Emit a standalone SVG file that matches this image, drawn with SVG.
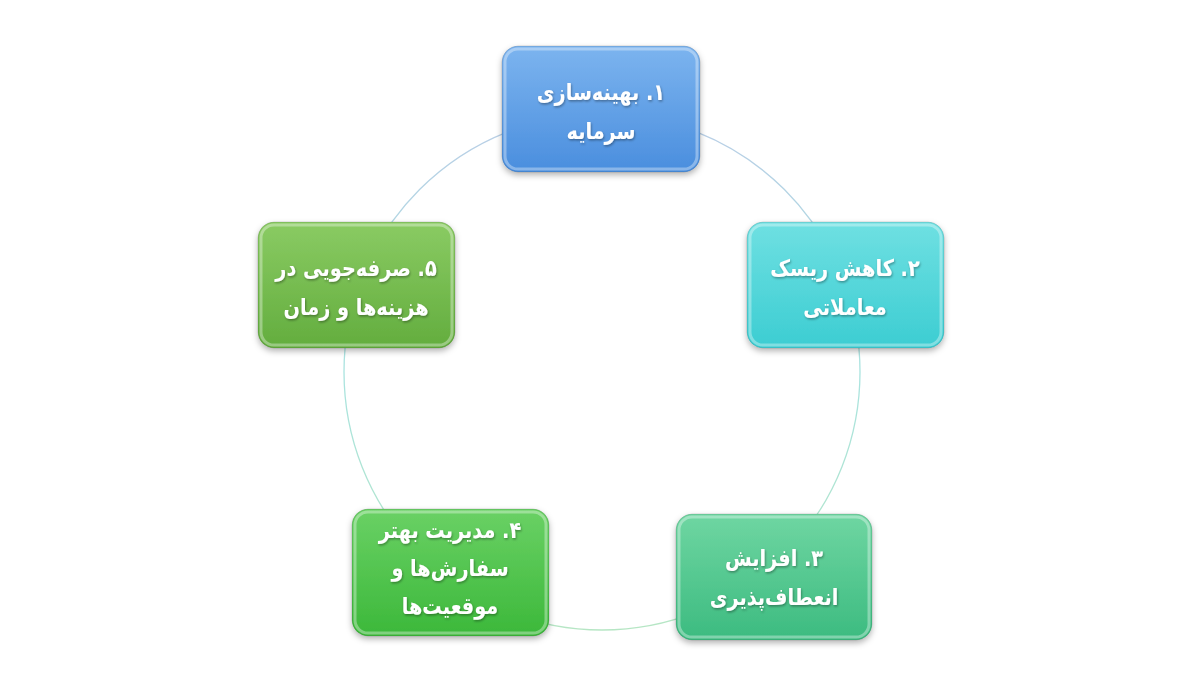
<svg xmlns="http://www.w3.org/2000/svg" width="1200" height="675" viewBox="0 0 1200 675">
<defs>
<linearGradient id="ring" x1="0" y1="0" x2="0" y2="1">
<stop offset="0" stop-color="#b9cde6"/>
<stop offset="0.5" stop-color="#a9e3df"/>
<stop offset="1" stop-color="#b6e6c4"/>
</linearGradient>
<linearGradient id="g1" x1="0" y1="0" x2="0" y2="1"><stop offset="0" stop-color="#7cb4ef"/><stop offset="1" stop-color="#4a8ede"/></linearGradient>
<linearGradient id="g2" x1="0" y1="0" x2="0" y2="1"><stop offset="0" stop-color="#6fe0e2"/><stop offset="1" stop-color="#3ccdd2"/></linearGradient>
<linearGradient id="g3" x1="0" y1="0" x2="0" y2="1"><stop offset="0" stop-color="#6fd6a2"/><stop offset="1" stop-color="#3cbb80"/></linearGradient>
<linearGradient id="g4" x1="0" y1="0" x2="0" y2="1"><stop offset="0" stop-color="#6ad165"/><stop offset="1" stop-color="#3cb83a"/></linearGradient>
<linearGradient id="g5" x1="0" y1="0" x2="0" y2="1"><stop offset="0" stop-color="#8acb63"/><stop offset="1" stop-color="#63ad3e"/></linearGradient>
<filter id="sh" x="-20%" y="-20%" width="140%" height="150%">
<feDropShadow dx="0" dy="3" stdDeviation="3" flood-color="#000" flood-opacity="0.3"/>
</filter>
<filter id="tsh" x="-10%" y="-20%" width="120%" height="150%">
<feDropShadow dx="1" dy="1.5" stdDeviation="1" flood-color="#000" flood-opacity="0.35"/>
</filter>
</defs>
<style>
.box{filter:url(#sh);}
.bevel{fill:none;stroke:#ffffff;stroke-opacity:0.35;stroke-width:3;}
.edge{fill:none;stroke:#000;stroke-opacity:0.12;stroke-width:1;}
.lbl{font-family:"DejaVu Sans","Noto Sans",sans-serif;font-weight:bold;font-size:23px;fill:#ffffff;text-anchor:middle;direction:rtl;filter:url(#tsh);}
</style>
<rect width="1200" height="675" fill="#ffffff"/>
<g id="connectors">
<circle cx="602" cy="372" r="258" fill="none" stroke="url(#ring)" stroke-width="1.3"/>
</g>
<g id="node1">
<rect class="box" x="502" y="46" width="198" height="126" rx="16" fill="url(#g1)"/>
<rect class="bevel" x="505" y="49" width="192" height="120" rx="13"/>
<rect class="edge" x="502" y="46" width="198" height="126" rx="16"/>
<text class="lbl" transform="translate(601,100) scale(0.84,1)">۱. بهینه‌سازی</text>
<text class="lbl" transform="translate(601,139) scale(0.84,1)">سرمایه</text>
</g>
<g id="node2">
<rect class="box" x="747" y="222" width="197" height="126" rx="16" fill="url(#g2)"/>
<rect class="bevel" x="750" y="225" width="191" height="120" rx="13"/>
<rect class="edge" x="747" y="222" width="197" height="126" rx="16"/>
<text class="lbl" transform="translate(845,276) scale(0.84,1)">۲. کاهش ریسک</text>
<text class="lbl" transform="translate(845,315) scale(0.84,1)">معاملاتی</text>
</g>
<g id="node3">
<rect class="box" x="676" y="514" width="196" height="126" rx="16" fill="url(#g3)"/>
<rect class="bevel" x="679" y="517" width="190" height="120" rx="13"/>
<rect class="edge" x="676" y="514" width="196" height="126" rx="16"/>
<text class="lbl" transform="translate(774,566) scale(0.84,1)">۳. افزایش</text>
<text class="lbl" transform="translate(774,605) scale(0.84,1)">انعطاف‌پذیری</text>
</g>
<g id="node4">
<rect class="box" x="352" y="509" width="197" height="127" rx="16" fill="url(#g4)"/>
<rect class="bevel" x="355" y="512" width="191" height="121" rx="13"/>
<rect class="edge" x="352" y="509" width="197" height="127" rx="16"/>
<text class="lbl" transform="translate(450,538) scale(0.84,1)">۴. مدیریت بهتر</text>
<text class="lbl" transform="translate(450,576) scale(0.84,1)">سفارش‌ها و</text>
<text class="lbl" transform="translate(450,614) scale(0.84,1)">موقعیت‌ها</text>
</g>
<g id="node5">
<rect class="box" x="258" y="222" width="197" height="126" rx="16" fill="url(#g5)"/>
<rect class="bevel" x="261" y="225" width="191" height="120" rx="13"/>
<rect class="edge" x="258" y="222" width="197" height="126" rx="16"/>
<text class="lbl" transform="translate(356,276) scale(0.84,1)">۵. صرفه‌جویی در</text>
<text class="lbl" transform="translate(356,315) scale(0.84,1)">هزینه‌ها و زمان</text>
</g>
</svg>
